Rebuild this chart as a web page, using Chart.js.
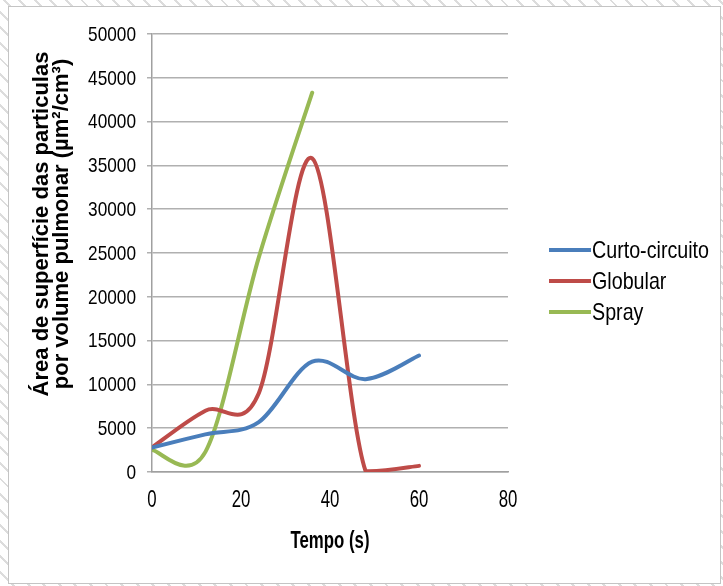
<!DOCTYPE html>
<html>
<head>
<meta charset="utf-8">
<script src="https://cdn.jsdelivr.net/npm/chart.js@4/dist/chart.umd.min.js"></script>
<style>
  html, body { margin: 0; padding: 0; }
  body {
    width: 723px; height: 586px; position: relative; overflow: hidden;
    background: repeating-linear-gradient(45deg, #ffffff 0px, #ffffff 9px, #dcdcdc 9px, #dcdcdc 11px);
  }
  #frame {
    position: absolute; left: 8px; top: 6px; width: 711px; height: 576px;
    background: #fff; border: 1px solid #c4c4c4;
  }
  #wrap { position: absolute; left: 0; top: 0; width: 723px; height: 586px; }
</style>
</head>
<body>
<div id="frame"></div>
<div id="wrap"><canvas id="chart" width="723" height="586"></canvas></div>
<script>
// tempo (s) das medições
const times = [0, 12, 24, 36, 48, 60];
const sprayTimes = [0, 12, 24, 36];

// área de superfície (µm²/cm³)
const curtoCircuito = [2800, 4300, 5700, 12600, 10600, 13300];
const globular = [2800, 7000, 9000, 35800, 100, 700];
const spray = [2500, 2300, 24500, 43300];

const seriesNames = ["Curto-circuito", "Globular", "Spray"];
const seriesColors = ["#4a7ebb", "#be4b48", "#98b954"];

const yTitle = ["Área de superfície das particulas", "por volume pulmonar (µm²/cm³)"];
const xTitle = "Tempo (s)";

const sans = "'Liberation Sans', Arial, sans-serif";

function toPoints(xs, ys) {
  return xs.map((x, i) => ({ x: x, y: ys[i] }));
}

// texto "estreito" (Arial Narrow não existe aqui)
function narrowText(ctx, text, x, y, font, sx, align) {
  ctx.save();
  ctx.translate(x, y);
  ctx.scale(sx, 1);
  ctx.font = font;
  ctx.textAlign = align;
  ctx.textBaseline = "middle";
  ctx.fillStyle = "#000";
  ctx.fillText(text, 0, 0);
  ctx.restore();
}

// suavização tipo Excel (Catmull-Rom) em vez da do Chart.js
const excelSmooth = {
  id: "excelSmooth",
  beforeDatasetsDraw(chart) {
    const area = chart.chartArea;
    chart.data.datasets.forEach((ds, di) => {
      const meta = chart.getDatasetMeta(di);
      const pts = meta.data;
      meta.dataset.updateControlPoints(area, "x");
      for (let i = 0; i < pts.length; i++) {
        const p = pts[i];
        const prev = pts[i - 1] || p;
        const next = pts[i + 1] || p;
        const dx = (next.x - prev.x) / 6;
        const dy = (next.y - prev.y) / 6;
        // ponto colado no eixo: não deixar a curva passar abaixo de zero
        const onAxis = area.bottom - p.y < 5;
        const fix = (v) => (onAxis ? Math.min(v, area.bottom) : v);
        p.cp1x = p.x - dx;
        p.cp1y = fix(p.y - dy);
        p.cp2x = p.x + dx;
        p.cp2y = fix(p.y + dy);
      }
    });
  },
};

// rótulos, títulos e legenda desenhados à mão
const extras = {
  id: "extras",
  afterDraw(chart) {
    const ctx = chart.ctx;
    const xs = chart.scales.x;
    const ys = chart.scales.y;

    ys.ticks.forEach((t) => {
      narrowText(ctx, String(t.value), 136, ys.getPixelForValue(t.value) + 1, "21px " + sans, 0.82, "right");
    });
    xs.ticks.forEach((t) => {
      narrowText(ctx, String(t.value), xs.getPixelForValue(t.value), 500, "24px " + sans, 0.7, "center");
    });
    narrowText(ctx, xTitle, 330, 542, "bold 23px " + sans, 0.73, "center");

    // título Y, duas linhas centradas
    ctx.save();
    ctx.font = "bold 22px " + sans;
    ctx.fillStyle = "#000";
    ctx.textAlign = "center";
    ctx.textBaseline = "middle";
    [42, 62].forEach((cx, i) => {
      ctx.save();
      ctx.translate(cx, 224);
      ctx.rotate(-Math.PI / 2);
      ctx.fillText(yTitle[i], 0, 0);
      ctx.restore();
    });
    ctx.restore();

    // legenda
    chart.data.datasets.forEach((ds, i) => {
      const y = 250 + i * 31;
      ctx.save();
      ctx.strokeStyle = ds.borderColor;
      ctx.lineWidth = 4;
      ctx.beginPath();
      ctx.moveTo(549, y);
      ctx.lineTo(591, y);
      ctx.stroke();
      ctx.restore();
      narrowText(ctx, ds.label, 592, y + 1, "24px " + sans, 0.82, "left");
    });
  },
};

const ctx = document.getElementById("chart");
new Chart(ctx, {
  type: "line",
  data: {
    datasets: [
      { label: seriesNames[0], data: toPoints(times, curtoCircuito) },
      { label: seriesNames[1], data: toPoints(times, globular) },
      { label: seriesNames[2], data: toPoints(sprayTimes, spray) },
    ].map((d, i) => Object.assign(d, {
      borderColor: seriesColors[i],
      backgroundColor: seriesColors[i],
      borderWidth: 4,
      pointRadius: 0,
      tension: 0.4,
      fill: false,
    })),
  },
  options: {
    responsive: false,
    animation: false,
    events: [],
    layout: { padding: { left: 0, top: 34, right: 215, bottom: 24 } },
    elements: { line: { borderCapStyle: "round" } },
    plugins: {
      legend: { display: false },
      tooltip: { enabled: false },
    },
    scales: {
      x: {
        type: "linear",
        min: 0,
        max: 80,
        afterFit: (s) => { s.height = 90; },
        ticks: { stepSize: 20, display: false },
        grid: { display: false },
        border: { display: true, color: "#a0a0a0", width: 1.5 },
      },
      y: {
        min: 0,
        max: 50000,
        afterFit: (s) => { s.width = 152; },
        ticks: { stepSize: 5000, display: false },
        grid: { color: "#b0b0b0", lineWidth: 1.5, tickLength: 5 },
        border: { display: true, color: "#a0a0a0", width: 1.5 },
      },
    },
  },
  plugins: [excelSmooth, extras],
});
</script>
</body>
</html>
